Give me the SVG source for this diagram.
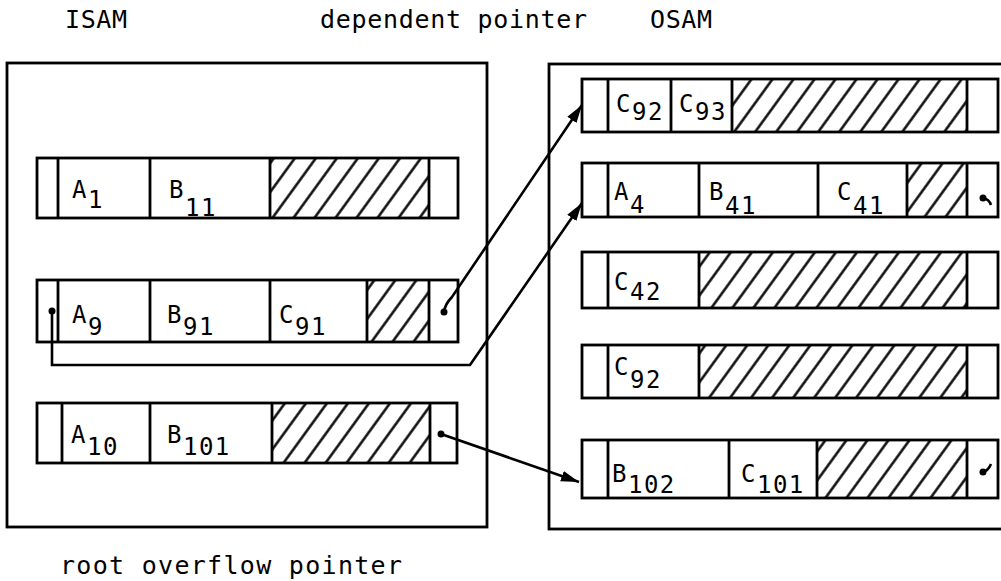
<svg xmlns="http://www.w3.org/2000/svg" width="1001" height="581" viewBox="0 0 1001 581">
<style>
.box{fill:none;stroke:#000;stroke-width:2.8}
.rec{fill:#fff;stroke:#000;stroke-width:2.8}
.div{fill:none;stroke:#000;stroke-width:2.8}
.hat{fill:url(#hatch);stroke:none}
.t{font-family:"DejaVu Sans Mono","Liberation Mono",monospace;font-size:25px;fill:#000}
.lb{font-family:"DejaVu Sans Mono","Liberation Mono",monospace;font-size:24px;letter-spacing:1.5px;fill:#000}
.con{fill:none;stroke:#000;stroke-width:2.6}
.dot{fill:#000}
</style>
<defs>
<pattern id="hatch" patternUnits="userSpaceOnUse" width="17" height="20" patternTransform="rotate(36)">
<line x1="8.5" y1="-2" x2="8.5" y2="22" stroke="#000" stroke-width="2.4"/>
</pattern>
<marker id="ah" markerUnits="userSpaceOnUse" markerWidth="20" markerHeight="14" refX="18" refY="7" orient="auto">
<path d="M0,1.5 L18,7 L0,12.5 z" fill="#000"/>
</marker>
</defs>
<rect width="1001" height="581" fill="#fff"/>

<text class="t" x="65" y="28" textLength="62" lengthAdjust="spacing">ISAM</text>
<text class="t" x="320" y="28" textLength="267" lengthAdjust="spacing">dependent pointer</text>
<text class="t" x="650" y="28" textLength="62" lengthAdjust="spacing">OSAM</text>
<text class="t" x="60" y="574" textLength="342" lengthAdjust="spacing">root overflow pointer</text>

<g id="isam">
<rect class="box" x="7" y="63" width="480" height="464"/>
</g>
<g id="osam">
<rect class="box" x="549" y="64" width="470" height="465"/>
</g>

<g id="isam-row1">
<rect class="rec" x="37" y="158" width="421" height="60"/>
<rect class="hat" x="270" y="158" width="159" height="60"/>
<path class="div" d="M58,158V218M150,158V218M270,158V218M429,158V218"/>
<text class="lb" x="72" y="198">A<tspan dy="10">1</tspan></text>
<text class="lb" x="169" y="198">B<tspan dy="18">11</tspan></text>
</g>

<g id="isam-row2">
<rect class="rec" x="37" y="280" width="421" height="62"/>
<rect class="hat" x="367" y="280" width="62" height="62"/>
<path class="div" d="M58,280V342M150,280V342M270,280V342M367,280V342M429,280V342"/>
<text class="lb" x="72" y="323">A<tspan dy="12">9</tspan></text>
<text class="lb" x="167" y="323">B<tspan dy="12">91</tspan></text>
<text class="lb" x="279" y="323">C<tspan dy="12">91</tspan></text>
</g>

<g id="isam-row3">
<rect class="rec" x="37" y="403" width="420" height="60"/>
<rect class="hat" x="272" y="403" width="158" height="60"/>
<path class="div" d="M62,403V463M150,403V463M272,403V463M430,403V463"/>
<text class="lb" x="71" y="443">A<tspan dy="12">10</tspan></text>
<text class="lb" x="167" y="443">B<tspan dy="12">101</tspan></text>
</g>

<g id="osam-row1">
<rect class="rec" x="582" y="79" width="416" height="53"/>
<rect class="hat" x="732" y="79" width="235" height="53"/>
<path class="div" d="M608,79V132M671,79V132M732,79V132M967,79V132"/>
<text class="lb" x="616" y="112">C<tspan dy="8">92</tspan></text>
<text class="lb" x="679" y="112">C<tspan dy="8">93</tspan></text>
</g>

<g id="osam-row2">
<rect class="rec" x="582" y="163" width="416" height="54"/>
<rect class="hat" x="907" y="163" width="60" height="54"/>
<path class="div" d="M608,163V217M699,163V217M818,163V217M907,163V217M967,163V217"/>
<text class="lb" x="614" y="200">A<tspan dy="13">4</tspan></text>
<text class="lb" x="709" y="200">B<tspan dy="14">41</tspan></text>
<text class="lb" x="837" y="200">C<tspan dy="14">41</tspan></text>
<circle class="dot" cx="983" cy="198" r="3.5"/>
<path class="con" d="M983,198 Q989,199 991,205"/>
</g>

<g id="osam-row3">
<rect class="rec" x="582" y="252" width="416" height="56"/>
<rect class="hat" x="699" y="252" width="268" height="56"/>
<path class="div" d="M608,252V308M699,252V308M967,252V308"/>
<text class="lb" x="614" y="290">C<tspan dy="10">42</tspan></text>
</g>

<g id="osam-row4">
<rect class="rec" x="582" y="345" width="416" height="53"/>
<rect class="hat" x="699" y="345" width="268" height="53"/>
<path class="div" d="M608,345V398M699,345V398M967,345V398"/>
<text class="lb" x="614" y="375">C<tspan dy="13">92</tspan></text>
</g>

<g id="osam-row5">
<rect class="rec" x="582" y="440" width="416" height="58"/>
<rect class="hat" x="817" y="440" width="150" height="58"/>
<path class="div" d="M608,440V498M729,440V498M817,440V498M967,440V498"/>
<text class="lb" x="612" y="482">B<tspan dy="11">102</tspan></text>
<text class="lb" x="741" y="482">C<tspan dy="11">101</tspan></text>
<circle class="dot" cx="983" cy="472" r="3.5"/>
<path class="con" d="M983,472 Q988,471 991,464"/>
</g>

<g id="connectors">
<path class="con" d="M444,312 C445,305 448,301 452,297 L582,105" marker-end="url(#ah)"/>
<path class="con" d="M52,311 V365 H470 L582,203" marker-end="url(#ah)"/>
<path class="con" d="M441,434 L579,482" marker-end="url(#ah)"/>
<circle class="dot" cx="444" cy="312" r="3.5"/>
<circle class="dot" cx="52" cy="311" r="3.5"/>
<circle class="dot" cx="441" cy="434" r="3.5"/>
</g>
</svg>
